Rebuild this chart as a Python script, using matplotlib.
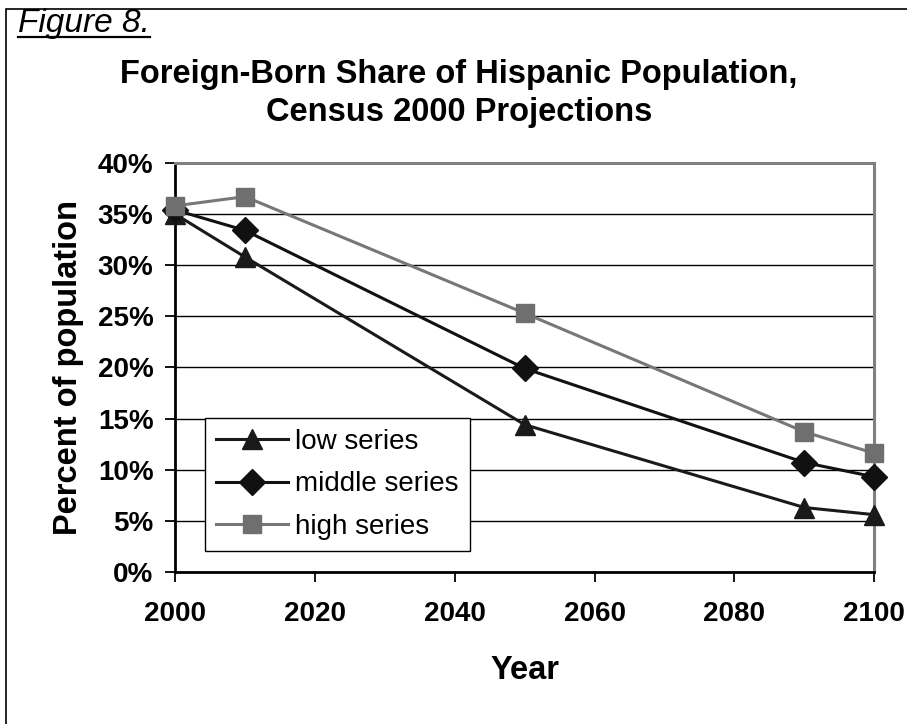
import matplotlib
matplotlib.use("Agg")
import matplotlib.pyplot as plt
from matplotlib.lines import Line2D
from matplotlib.patches import Rectangle
from matplotlib.ticker import FuncFormatter, MultipleLocator

plt.rcParams['font.family'] = ['Liberation Sans', 'DejaVu Sans']

years = [2000, 2010, 2050, 2090, 2100]
low_series = [35.0, 30.8, 14.4, 6.3, 5.6]
middle_series = [35.4, 33.4, 19.9, 10.7, 9.3]
high_series = [35.8, 36.7, 25.3, 13.7, 11.6]
x_ticks = [2000, 2020, 2040, 2060, 2080, 2100]

fig = plt.figure(figsize=(9.07, 7.24), dpi=100)
ax = fig.add_axes([0.193, 0.210, 0.771, 0.565])

ax.set_xlim(2000, 2100)
ax.set_ylim(0, 40)
ax.yaxis.set_major_locator(MultipleLocator(5))
ax.set_xticks(x_ticks)
ax.yaxis.set_major_formatter(FuncFormatter(lambda v, p: f"{int(v)}%"))
ax.grid(axis='y', color='black', linewidth=1.0)
ax.set_axisbelow(True)

for s in ['top', 'right']:
    ax.spines[s].set_color('#808080')
    ax.spines[s].set_linewidth(2.2)
for s in ['left', 'bottom']:
    ax.spines[s].set_color('black')
    ax.spines[s].set_linewidth(2.0)
ax.tick_params(axis='both', direction='out', length=7, width=1.3, labelsize=20)
ax.tick_params(axis='y', pad=8.5)
ax.tick_params(axis='x', pad=14)
for lab in ax.get_xticklabels() + ax.get_yticklabels():
    lab.set_fontweight('bold')

ax.plot(years, low_series, color='#1a1a1a', linewidth=2.2, marker='^', markersize=14,
        label='low series', clip_on=False, zorder=3)
ax.plot(years, middle_series, color='#111111', linewidth=2.2, marker='D', markersize=13,
        label='middle series', clip_on=False, zorder=3)
ax.plot(years, high_series, color='#777777', linewidth=2.2, marker='s', markersize=13.5,
        markerfacecolor='#6f6f6f', markeredgecolor='#6f6f6f',
        label='high series', clip_on=False, zorder=4)

leg = ax.legend(loc='lower left', bbox_to_anchor=(0.043, 0.051), fontsize=20,
                frameon=True, fancybox=False, edgecolor='black', framealpha=1,
                handlelength=2.6, borderpad=0.4, labelspacing=0.6, handletextpad=0.25,
                borderaxespad=0)
leg.get_frame().set_linewidth(1.0)

ax.set_xlabel('Year', fontsize=23.5, fontweight='bold', labelpad=20)
ax.set_ylabel('Percent of population', fontsize=23.5, fontweight='bold', labelpad=10)

fig.text(0.506, 1 - 75 / 724, 'Foreign-Born Share of Hispanic Population,',
         ha='center', va='center', fontsize=23.5, fontweight='bold')
fig.text(0.506, 1 - 113 / 724, 'Census 2000 Projections',
         ha='center', va='center', fontsize=23.5, fontweight='bold')

t = fig.text(0.020, 1 - 32 / 724, 'Figure 8.', ha='left', va='baseline', fontsize=24,
             style='italic')
fig.canvas.draw()
bb = t.get_window_extent().transformed(fig.transFigure.inverted())
fig.add_artist(Line2D([bb.x0, bb.x1], [1 - 37 / 724, 1 - 37 / 724],
                      transform=fig.transFigure, color='black', linewidth=1.6))

fig.add_artist(Rectangle((0.007, -0.01), 1.2, 0.997, transform=fig.transFigure,
                         fill=False, edgecolor='black', linewidth=1.2))

fig.savefig('out.png', dpi=100)
